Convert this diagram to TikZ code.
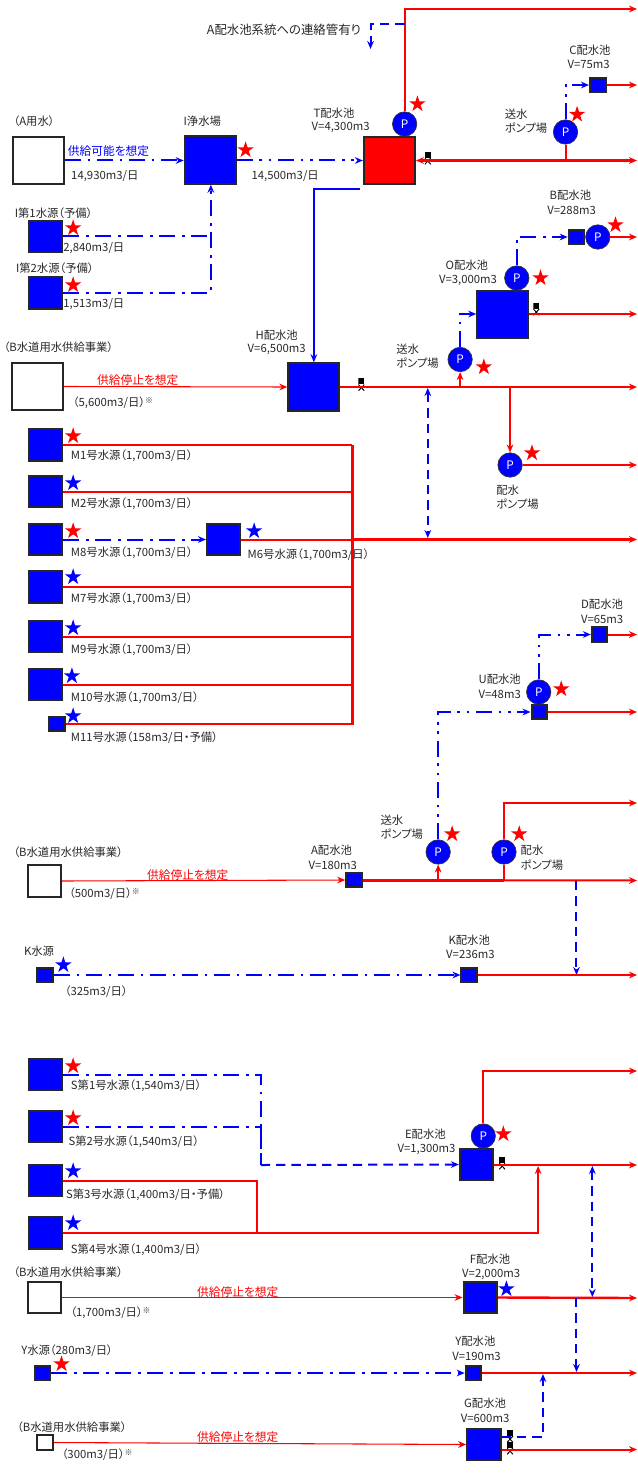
\documentclass[tikz,border=0pt]{standalone}
\usepackage{fontspec}
\setmainfont[RawFeature=+palt]{Noto Sans CJK JP}
\usepackage{tikz}
\usetikzlibrary{shapes.geometric, arrows.meta, calc}
\definecolor{cBlue}{RGB}{0,0,255}
\definecolor{cRed}{RGB}{255,0,0}
\definecolor{cLabel}{RGB}{40,40,40}
\tikzset{
  >={Stealth[length=6pt,width=5pt]},
  basetank/.style={rectangle, draw=black!85, line width=1.5pt, inner sep=0pt},
  bigtank/.style={basetank, fill=cBlue, minimum width=38.3pt, minimum height=35.6pt},
  redtank/.style={bigtank, fill=cRed},
  opentank/.style={bigtank, fill=white},
  midtank/.style={basetank, fill=cBlue, minimum width=25pt, minimum height=23.6pt},
  openmid/.style={midtank, fill=white},
  smalltank/.style={basetank, fill=cBlue, minimum width=11.7pt, minimum height=10.9pt},
  opensmall/.style={smalltank, fill=white},
  pumpnode/.style={circle, draw=black!80, line width=.5pt, fill=cBlue, text=white,
                   minimum size=18.3pt, inner sep=0pt,
                   font=\fontsize{8.8}{10}\selectfont},
  redstar/.style={star, star points=5, star point ratio=2.618, fill=cRed,
                  minimum size=13pt, inner sep=0pt},
  bluestar/.style={redstar, fill=cBlue},
  lbl/.style={inner sep=0pt, text=cLabel, font=\fontsize{8.5}{10}\selectfont},
  lblleft/.style={lbl, anchor=west},
  redlbl/.style={lbl, text=cRed, font=\fontsize{8.8}{10}\selectfont},
  bluelbl/.style={lbl, text=cBlue, font=\fontsize{8.8}{10}\selectfont},
  valvenode/.style={rectangle, inner sep=0pt, minimum width=4.5pt, minimum height=9.5pt,
    path picture={
      \fill[black] (path picture bounding box.north west) rectangle
                   (path picture bounding box.east);
      \draw[black, line width=.7pt] (path picture bounding box.west)
                   -- (path picture bounding box.south east);
      \draw[black, line width=.7pt] (path picture bounding box.east)
                   -- (path picture bounding box.south west);
    }},
  redpipe/.style={draw=cRed, line width=1.5pt},
  heavypipe/.style={draw=cRed, line width=1.8pt},
  mainpipe/.style={draw=cRed, line width=2.2pt},
  thinpipe/.style={draw=cRed, line width=.8pt},
  bluepipe/.style={draw=cBlue, line width=1.5pt},
  dashdot/.style={bluepipe, dash pattern=on 12pt off 5pt on 2pt off 5pt},
  dashdotdot/.style={bluepipe, dash pattern=on 12pt off 5pt on 2pt off 5pt on 2pt off 5pt},
  linkpipe/.style={bluepipe, dash pattern=on 7pt off 4.5pt}
}
\begin{document}
\begin{tikzpicture}[x=0.9141pt, y=-0.75pt]
  \useasboundingbox (0,0) rectangle (522.67,1483);

  % ── Block 1: T / I / A water ──
  \node[opentank] (box_a) at (31.5,160.5) {};
  \node[bigtank] (tank_i) at (172.5,160) {};
  \node[redtank] (tank_t) at (319.5,160.5) {};
  \node[midtank] (tank_i1) at (37.5,236.5) {};
  \node[midtank] (tank_i2) at (37.5,293) {};
  \node[smalltank] (tank_c) at (490.5,85) {};
  \node[smalltank] (tank_b) at (473,237) {};
  \node[bigtank] (tank_o) at (412.5,314.5) {};
  \node[pumpnode] (pump_t) at (332,124) {P};
  \node[pumpnode] (pump_c) at (464,132) {P};
  \node[pumpnode] (pump_b) at (490.5,237) {P};
  \node[pumpnode] (pump_o) at (424,278) {P};
  \node[valvenode] (valve_t) at (351,158) {};
  \node[valvenode] (valve_o) at (440,309) {};

  % ── Block 2: H / M sources ──
  \node[opentank] (box_h) at (30.5,386.5) {};
  \node[bigtank] (tank_h) at (257.5,387) {};
  \node[midtank] (tank_m1) at (37.5,445) {};
  \node[midtank] (tank_m2) at (37.5,491.5) {};
  \node[midtank] (tank_m8) at (37.5,539.5) {};
  \node[midtank] (tank_m6) at (183.5,539.5) {};
  \node[midtank] (tank_m7) at (37.5,587) {};
  \node[midtank] (tank_m9) at (37.5,636.5) {};
  \node[midtank] (tank_m10) at (37.5,684.5) {};
  \node[smalltank] (tank_m11) at (47,724) {};
  \node[pumpnode] (pump_hs) at (377.5,359.5) {P};
  \node[pumpnode] (pump_hd) at (418.5,465) {P};
  \node[valvenode] (valve_h) at (296.5,384.5) {};

  % ── Block 3: A / U / D / K ──
  \node[smalltank] (tank_d) at (492,634.5) {};
  \node[smalltank] (tank_u) at (442.5,712) {};
  \node[smalltank] (tank_aa) at (290.5,880) {};
  \node[openmid] (box_aa) at (36.5,881) {};
  \node[smalltank] (tank_ks) at (37,975) {};
  \node[smalltank] (tank_k) at (385,975) {};
  \node[pumpnode] (pump_u) at (442,692) {P};
  \node[pumpnode] (pump_as) at (359.5,852) {P};
  \node[pumpnode] (pump_ad) at (413.5,852) {P};

  % ── Block 4: S / E / F / Y / G ──
  \node[midtank] (tank_s1) at (37.5,1074.5) {};
  \node[midtank] (tank_s2) at (37.5,1126.5) {};
  \node[midtank] (tank_s3) at (37.5,1180.5) {};
  \node[midtank] (tank_s4) at (37.5,1233) {};
  \node[midtank] (tank_e) at (391,1164.5) {};
  \node[midtank] (tank_f) at (394,1297.5) {};
  \node[openmid] (box_f) at (36.5,1297.5) {};
  \node[smalltank] (tank_ys) at (35,1373) {};
  \node[smalltank] (tank_y) at (388.5,1373) {};
  \node[midtank] (tank_g) at (397,1444.5) {};
  \node[opensmall] (box_g) at (37,1442.5) {};
  \node[pumpnode] (pump_e) at (396.5,1136) {P};
  \node[valvenode] (valve_e) at (412,1163) {};
  \node[valvenode] (valve_g1) at (418.5,1436) {};
  \node[valvenode] (valve_g2) at (418.5,1448) {};

  % ── Stars ──
  \node[redstar] (star_t) at (342.5,104) {};
  \node[redstar] (star_c) at (473.5,114.5) {};
  \node[redstar] (star_i) at (201.5,150) {};
  \node[redstar] (star_i1) at (60,228) {};
  \node[redstar] (star_i2) at (60,285) {};
  \node[redstar] (star_b) at (505,225) {};
  \node[redstar] (star_o) at (443.5,278) {};
  \node[redstar] (star_hs) at (397,367) {};
  \node[redstar] (star_hd) at (436.5,453) {};
  \node[redstar] (star_m1) at (60,436) {};
  \node[bluestar] (star_m2) at (60,483) {};
  \node[redstar] (star_m8) at (60,531) {};
  \node[bluestar] (star_m6) at (208.5,531) {};
  \node[bluestar] (star_m7) at (60,577) {};
  \node[bluestar] (star_m9) at (60,628) {};
  \node[bluestar] (star_m10) at (59,676) {};
  \node[bluestar] (star_m11) at (60,716) {};
  \node[redstar] (star_u) at (460.5,689) {};
  \node[redstar] (star_as) at (371,834) {};
  \node[redstar] (star_ad) at (426,834) {};
  \node[bluestar] (star_ks) at (52,965) {};
  \node[redstar] (star_s1) at (60,1066) {};
  \node[redstar] (star_s2) at (60,1118) {};
  \node[bluestar] (star_s3) at (60,1171) {};
  \node[bluestar] (star_s4) at (60,1223) {};
  \node[redstar] (star_e) at (413,1134) {};
  \node[bluestar] (star_f) at (415.5,1289) {};
  \node[redstar] (star_ys) at (50.5,1364) {};

  % ── Labels, top ──
  \node[lbl, font=\fontsize{9.3}{10}\selectfont] (lab_link) at (233,30) {A配水池系統への連絡管有り};
  \node[lbl] (lab_a) at (28,121) {（A用水）};
  \node[lbl] (lab_i) at (166,121) {I浄水場};
  \node[bluelbl] (lab_can) at (89,151) {供給可能を想定};
  \node[lbl] (lab_a_q) at (86,176) {14,930m3/日};
  \node[lbl] (lab_i_q) at (234,176) {14,500m3/日};
  \node[lbl] (lab_t) at (274,113) {T配水池};
  \node[lbl] (lab_t_v) at (279.5,127) {V=4,300m3};
  \node[lbl] (lab_c) at (484,50) {C配水池};
  \node[lbl] (lab_c_v) at (483,64) {V=75m3};
  \node[lblleft] (lab_c_p1) at (414,114) {送水};
  \node[lblleft] (lab_c_p2) at (414,128) {ポンプ場};
  \node[lbl] (lab_b) at (468,195) {B配水池};
  \node[lbl] (lab_b_v) at (469,210) {V=288m3};
  \node[lbl] (lab_o) at (383,265) {O配水池};
  \node[lbl] (lab_o_v) at (384,280) {V=3,000m3};
  \node[lbl] (lab_i1) at (44,213) {I第1水源（予備）};
  \node[lbl] (lab_i1_q) at (77,248) {2,840m3/日};
  \node[lbl] (lab_i2) at (45,268) {I第2水源（予備）};
  \node[lbl] (lab_i2_q) at (77,304) {1,513m3/日};

  % ── Labels, M sources ──
  \node[lbl] (lab_bw1) at (48,347) {（B水道用水供給事業）};
  \node[lbl] (lab_h) at (227,335) {H配水池};
  \node[lbl] (lab_h_v) at (227,349) {V=6,500m3};
  \node[lblleft] (lab_hs1) at (325,349) {送水};
  \node[lblleft] (lab_hs2) at (325,363) {ポンプ場};
  \node[redlbl] (lab_stop1) at (113,380) {供給停止を想定};
  \node[lbl] (lab_bw1_q) at (93,403) {（5,600m3/日）\textsuperscript{※}};
  \node[lblleft] (lab_hd1) at (407,490) {配水};
  \node[lblleft] (lab_hd2) at (407,504) {ポンプ場};
  \node[lblleft] (lab_m1) at (58,456) {M1号水源（1,700m3/日）};
  \node[lblleft] (lab_m2) at (58,504) {M2号水源（1,700m3/日）};
  \node[lblleft] (lab_m8) at (58,553) {M8号水源（1,700m3/日）};
  \node[lblleft] (lab_m6) at (203,555) {M6号水源（1,700m3/日）};
  \node[lblleft] (lab_m7) at (58,599) {M7号水源（1,700m3/日）};
  \node[lblleft] (lab_m9) at (58,650) {M9号水源（1,700m3/日）};
  \node[lblleft] (lab_m10) at (58,698) {M10号水源（1,700m3/日）};
  \node[lblleft] (lab_m11) at (58,738) {M11号水源（158m3/日・予備）};

  % ── Labels, A / K ──
  \node[lbl] (lab_d) at (494,604) {D配水池};
  \node[lbl] (lab_d_v) at (494,619) {V=65m3};
  \node[lbl] (lab_u) at (410,679) {U配水池};
  \node[lbl] (lab_u_v) at (410,694) {V=48m3};
  \node[lblleft] (lab_as1) at (312,820) {送水};
  \node[lblleft] (lab_as2) at (312,834) {ポンプ場};
  \node[lblleft] (lab_ad1) at (427,850) {配水};
  \node[lblleft] (lab_ad2) at (427,865) {ポンプ場};
  \node[lbl] (lab_aa) at (272,850) {A配水池};
  \node[lbl] (lab_aa_v) at (273,865) {V=180m3};
  \node[lbl] (lab_bw2) at (56,852) {（B水道用水供給事業）};
  \node[redlbl] (lab_stop2) at (154,875) {供給停止を想定};
  \node[lbl] (lab_bw2_q) at (86,894) {（500m3/日）\textsuperscript{※}};
  \node[lbl] (lab_k) at (385,940) {K配水池};
  \node[lbl] (lab_k_v) at (386,954) {V=236m3};
  \node[lbl] (lab_ks) at (32,951) {K水源};
  \node[lbl] (lab_ks_q) at (79,992) {（325m3/日）};

  % ── Labels, S / E / F / Y / G ──
  \node[lblleft] (lab_s1) at (58,1086) {S第1号水源（1,540m3/日）};
  \node[lblleft] (lab_s2) at (56,1142) {S第2号水源（1,540m3/日）};
  \node[lblleft] (lab_s3) at (54,1195) {S第3号水源（1,400m3/日・予備）};
  \node[lblleft] (lab_s4) at (58,1250) {S第4号水源（1,400m3/日）};
  \node[lbl] (lab_e) at (349,1134) {E配水池};
  \node[lbl] (lab_e_v) at (350,1149) {V=1,300m3};
  \node[lbl] (lab_f) at (402,1259) {F配水池};
  \node[lbl] (lab_f_v) at (403,1274) {V=2,000m3};
  \node[lbl] (lab_bw3) at (56,1272) {（B水道用水供給事業）};
  \node[redlbl] (lab_stop3) at (195,1292) {供給停止を想定};
  \node[lbl] (lab_bw3_q) at (91,1313) {（1,700m3/日）\textsuperscript{※}};
  \node[lbl] (lab_ys) at (55,1351) {Y水源（280m3/日）};
  \node[lbl] (lab_y) at (390,1341) {Y配水池};
  \node[lbl] (lab_y_v) at (391,1356) {V=190m3};
  \node[lbl] (lab_g) at (398,1403) {G配水池};
  \node[lbl] (lab_g_v) at (398,1418) {V=600m3};
  \node[lbl] (lab_bw4) at (59,1427) {（B水道用水供給事業）};
  \node[redlbl] (lab_stop4) at (195,1437) {供給停止を想定};
  \node[lbl] (lab_bw4_q) at (80,1455) {（300m3/日）\textsuperscript{※}};

  % ── Free ends on the right edge ──
  \coordinate (out_t1) at (522.67,9);
  \coordinate (out_c) at (522.67,85);
  \coordinate (out_t2) at (522.67,160.5);
  \coordinate (out_b) at (522.67,237);
  \coordinate (out_o) at (522.67,314);
  \coordinate (out_h) at (522.67,387);
  \coordinate (out_hd) at (522.67,465);
  \coordinate (out_m) at (522.67,539.5);
  \coordinate (out_d) at (522.67,634.5);
  \coordinate (out_u) at (522.67,712);
  \coordinate (out_ad) at (522.67,803);
  \coordinate (out_aa) at (522.67,880.5);
  \coordinate (out_k) at (522.67,975);
  \coordinate (out_e1) at (522.67,1071);
  \coordinate (out_e2) at (522.67,1165);
  \coordinate (out_f) at (522.67,1298);
  \coordinate (out_y) at (522.67,1373);
  \coordinate (out_g) at (522.67,1449.5);

  % ── Helper points ──
  \coordinate (tap_t) at (332,24.5);
  \coordinate (link_end) at (304,49);
  \coordinate (off_t) at (295,189);
  \coordinate (bend_i) at (173,293);
  \coordinate (bend_hs) at (377.5,314);
  \coordinate (bus_m) at (289,445);
  \coordinate (link_h1) at (351,388);
  \coordinate (link_h2) at (351,538);
  \coordinate (link_a1) at (473,881);
  \coordinate (link_a2) at (473,975);
  \coordinate (bus_s) at (214,1165);
  \coordinate (join_s) at (211,1233);
  \coordinate (join_e) at (441.5,1166);
  \coordinate (link_e1) at (486,1166);
  \coordinate (link_e2) at (486,1297);
  \coordinate (link_f1) at (473,1298);
  \coordinate (link_f2) at (473,1372);
  \coordinate (link_g1) at (411.5,1437);
  \coordinate (link_g2) at (445.5,1374);

  % ── ARROWS, top ──
  \draw[redpipe, ->] (pump_t.north) |- (out_t1);
  \draw[linkpipe, ->] (tap_t) -| (link_end);
  \draw[heavypipe, <->] (tank_t.east) -- (out_t2);
  \draw[redpipe] (pump_c.south) -- (pump_c.south |- out_t2);
  \draw[dashdot, ->] (box_a.east) -- (tank_i.west |- box_a.east);
  \draw[dashdotdot, ->] (tank_i.east |- tank_t.west) -- (tank_t.west);
  \draw[dashdot] (tank_i1.east) -- (tank_i1.east -| bend_i);
  \draw[dashdot, ->] (tank_i2.east) -| (tank_i.south -| bend_i);
  \draw[bluepipe, ->] (off_t) -| (tank_h.north);
  \draw[dashdotdot, ->] (pump_c.north) |- (tank_c.west);
  \draw[redpipe, ->] (tank_c.east) -- (out_c);
  \draw[redpipe, ->] (pump_b.east) -- (out_b);
  \draw[dashdot, ->] (pump_o.north) |- (tank_b.west);
  \draw[redpipe, ->] (tank_o.east |- out_o) -- (out_o);
  \draw[dashdot, ->] (pump_hs.north) |- (tank_o.west |- bend_hs);

  % ── ARROWS, H and M ──
  \draw[thinpipe, ->] (box_h.east) -- (tank_h.west);
  \draw[heavypipe, ->] (tank_h.east) -- (out_h);
  \draw[redpipe, ->] (pump_hs.south |- out_h) -- (pump_hs.south);
  \draw[redpipe, ->] (pump_hd.north |- out_h) -- (pump_hd.north);
  \draw[redpipe, ->] (pump_hd.east) -- (out_hd);
  \draw[linkpipe, <->] (link_h1) -- (link_h2);
  \draw[redpipe] (tank_m1.east) -- (bus_m);
  \draw[redpipe] (tank_m2.east) -- (tank_m2.east -| bus_m);
  \draw[dashdot, ->] (tank_m8.east) -- (tank_m6.west);
  \draw[redpipe] (tank_m6.east) -- (tank_m6.east -| bus_m);
  \draw[mainpipe, ->] (tank_m6.east -| bus_m) -- (out_m);
  \draw[redpipe] (tank_m7.east) -- (tank_m7.east -| bus_m);
  \draw[redpipe] (tank_m9.east) -- (tank_m9.east -| bus_m);
  \draw[redpipe] (tank_m10.east) -- (tank_m10.east -| bus_m);
  \draw[mainpipe] (tank_m11.east) -| (bus_m);

  % ── ARROWS, A and K ──
  \draw[dashdotdot, ->] (pump_u.north) |- (tank_d.west);
  \draw[redpipe, ->] (tank_d.east) -- (out_d);
  \draw[redpipe, ->] (tank_u.east) -- (out_u);
  \draw[dashdotdot, ->] (pump_as.north) |- (tank_u.west);
  \draw[thinpipe, ->] (box_aa.east) -- (tank_aa.west);
  \draw[redpipe, ->] (tank_aa.east) -- (out_aa);
  \draw[heavypipe] (tank_aa.east |- out_aa) -- (pump_ad.south |- out_aa);
  \draw[redpipe, ->] (pump_as.south |- out_aa) -- (pump_as.south);
  \draw[redpipe] (pump_ad.south |- out_aa) -- (pump_ad.south);
  \draw[redpipe, ->] (pump_ad.north) |- (out_ad);
  \draw[linkpipe, ->] (link_a1) -- (link_a2);
  \draw[dashdot, ->] (tank_ks.east) -- (tank_k.west);
  \draw[redpipe, ->] (tank_k.east) -- (out_k);

  % ── ARROWS, S to G ──
  \draw[dashdot] (tank_s1.east) -| (bus_s);
  \draw[dashdot] (tank_s2.east) -| (bus_s);
  \draw[linkpipe, ->] (bus_s) -- (tank_e.west);
  \draw[redpipe, ->] (pump_e.north) |- (out_e1);
  \draw[redpipe, ->] (tank_e.east |- out_e2) -- (out_e2);
  \draw[redpipe] (tank_s3.east) -| (join_s);
  \draw[redpipe, ->] (tank_s4.east) -| (join_e);
  \draw[linkpipe, <->] (link_e1) -- (link_e2);
  \draw[thinpipe, ->] (box_f.east) -- (tank_f.west);
  \draw[heavypipe, ->] (tank_f.east) -- (out_f);
  \draw[linkpipe, ->] (link_f1) -- (link_f2);
  \draw[dashdot, ->] (tank_ys.east) -- (tank_y.west);
  \draw[redpipe, ->] (tank_y.east) -- (out_y);
  \draw[thinpipe, ->] (box_g.east) -- (tank_g.west);
  \draw[redpipe, ->] (tank_g.east |- out_g) -- (out_g);
  \draw[linkpipe, ->] (link_g1) -| (link_g2);

\end{tikzpicture}
\end{document}
